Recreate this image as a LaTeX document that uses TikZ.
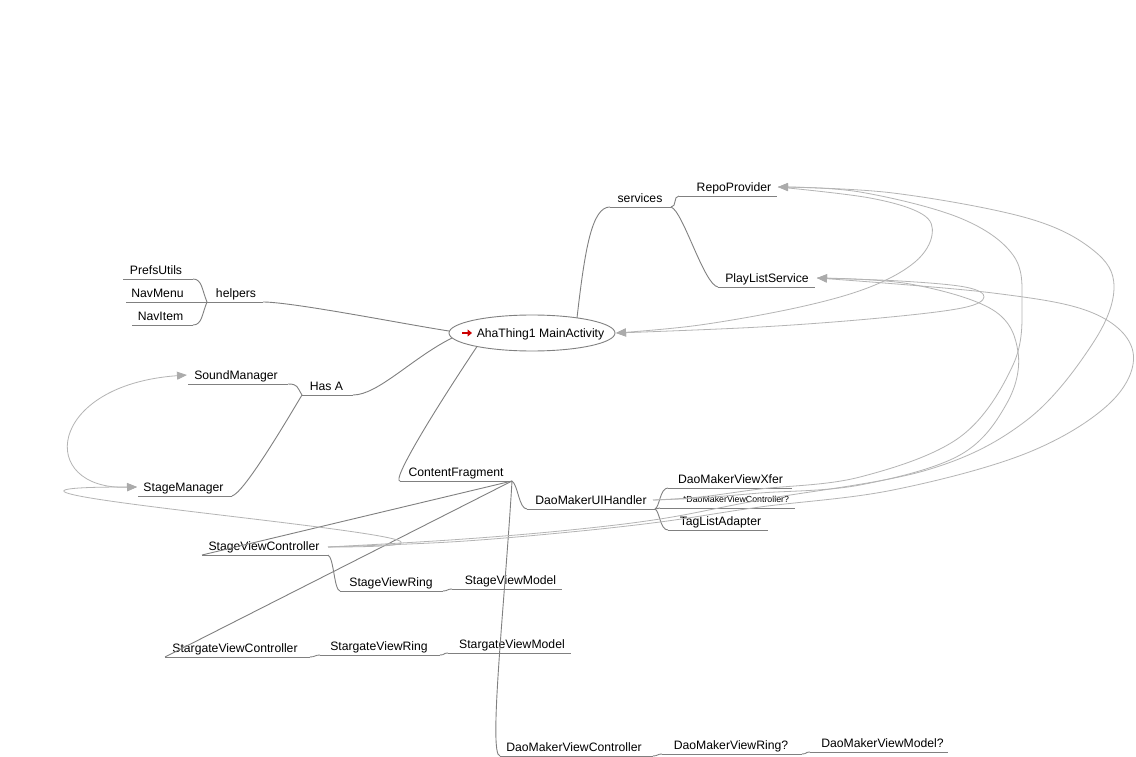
\documentclass[tikz,border=0pt]{standalone}
\usepackage{fontspec}
\setmainfont{Liberation Sans}
\usetikzlibrary{arrows.meta,shapes.geometric}
\definecolor{edgec}{HTML}{808080}
\definecolor{linkc}{HTML}{B4B4B4}
\definecolor{headc}{HTML}{ABABAB}
\begin{document}
\begin{tikzpicture}[x=1pt,y=-1pt,
  lbl/.style={font=\fontsize{12.2}{14}\selectfont, inner sep=0pt, anchor=base},
  smalllbl/.style={font=\fontsize{8.8}{10}\selectfont, inner sep=0pt, anchor=base},
  uline/.style={draw=edgec, line width=0.9pt},
  conn/.style={draw=edgec, line width=0.9pt},
  alink/.style={draw=linkc, line width=0.8pt},
  lhead/.style={-{Triangle[length=10pt,width=8pt,fill=headc,color=headc]}},
  bhead/.style={{Triangle[length=10pt,width=8pt,fill=headc,color=headc]}-{Triangle[length=10pt,width=8pt,fill=headc,color=headc]}},
]
\fill[white] (0,0) rectangle (1136,757);
\useasboundingbox (0,0) rectangle (1136,757);

% ---------- root ----------
\node[draw=edgec, line width=0.9pt, ellipse, minimum width=166pt, minimum height=36pt, inner sep=0pt] (root) at (532,333) {};
\node[lbl] (rootlbl) at (540.5,337.5) {AhaThing1 MainActivity};
\draw[red!80!black, line width=1.5pt, -{Triangle[length=4.5pt,width=7pt]}] (462,333) -- (472,333);
\coordinate (rootN) at (577,318);
\coordinate (rootW) at (449,331);
\coordinate (rootSW1) at (452,338);
\coordinate (rootSW2) at (477,346.5);
\coordinate (rootE) at (616,333);

% ---------- labels ----------
\node[lbl] (services) at (640,202.5) {services};
\node[lbl] (repo) at (734,191.5) {RepoProvider};
\node[lbl] (pls) at (767,282.5) {PlayListService};
\node[lbl] (helpers) at (236,297.5) {helpers};
\node[lbl] (prefs) at (156,274.5) {PrefsUtils};
\node[lbl] (navmenu) at (157.5,297.5) {NavMenu};
\node[lbl] (navitem) at (160.5,320.5) {NavItem};
\node[lbl] (hasa) at (326.5,390.5) {Has A};
\node[lbl] (sound) at (236,379.5) {SoundManager};
\node[lbl] (stagemgr) at (183.5,491.5) {StageManager};
\node[lbl] (content) at (456,476.5) {ContentFragment};
\node[lbl] (uih) at (591,504.5) {DaoMakerUIHandler};
\node[lbl] (xfer) at (730.5,483.5) {DaoMakerViewXfer};
\node[smalllbl] (dvc) at (736,502.5) {*DaoMakerViewController?};
\node[lbl] (tla) at (720.5,525.5) {TagListAdapter};
\node[lbl] (svco) at (264,550.5) {StageViewController};
\node[lbl] (svr) at (391,586.5) {StageViewRing};
\node[lbl] (svm) at (510.5,584.5) {StageViewModel};
\node[lbl] (sgc) at (235,652.5) {StargateViewController};
\node[lbl] (sgr) at (379,650.5) {StargateViewRing};
\node[lbl] (sgm) at (512,648.5) {StargateViewModel};
\node[lbl] (dmc) at (574,751.5) {DaoMakerViewController};
\node[lbl] (dmr) at (731,749.5) {DaoMakerViewRing?};
\node[lbl] (dmm) at (882.5,747.5) {DaoMakerViewModel?};

% ---------- underline end points ----------
\coordinate (svcL) at (610,207);  \coordinate (svcR) at (671,207);
\coordinate (repL) at (679,196);  \coordinate (repR) at (777,196);
\coordinate (plsL) at (718,287);  \coordinate (plsR) at (815,287);
\coordinate (hlpL) at (207,302);  \coordinate (hlpR) at (263,302);
\coordinate (prfL) at (123,279);  \coordinate (prfR) at (193,279);
\coordinate (nvmL) at (126,302);
\coordinate (nviL) at (132,325);  \coordinate (nviR) at (193,325);
\coordinate (hasL) at (302,395);  \coordinate (hasR) at (353,395);
\coordinate (sndL) at (188,384);  \coordinate (sndR) at (288,384);
\coordinate (stmL) at (138,496);  \coordinate (stmR) at (232,496);
\coordinate (cfL) at (400,481);   \coordinate (cfR) at (512,481);
\coordinate (uihL) at (527,509);  \coordinate (uihR) at (655,509);
\coordinate (xfL) at (668,488);   \coordinate (xfR) at (792,488);
\coordinate (dvcL) at (660,508);  \coordinate (dvcR) at (795,508);
\coordinate (tlaL) at (668,530);  \coordinate (tlaR) at (768,530);
\coordinate (svcoL) at (202,555); \coordinate (svcoR) at (328,555);
\coordinate (svrL) at (340,591);  \coordinate (svrR) at (443,591);
\coordinate (svmL) at (452,589);  \coordinate (svmR) at (562,589);
\coordinate (sgcL) at (165,657);  \coordinate (sgcR) at (310,657);
\coordinate (sgrL) at (320,655);  \coordinate (sgrR) at (440,655);
\coordinate (sgmL) at (448,653);  \coordinate (sgmR) at (571,653);
\coordinate (dmcL) at (500,756);  \coordinate (dmcR) at (653,756);
\coordinate (dmrL) at (662,754);  \coordinate (dmrR) at (802,754);
\coordinate (dmmL) at (810,752);  \coordinate (dmmR) at (948,752);

% link attach points
\coordinate (repA) at (778,187);
\coordinate (plsA) at (817,278);
\coordinate (sndA) at (187,375);
\coordinate (stmA) at (137,487);
\coordinate (svcoA) at (328,547);
\coordinate (dvcA) at (653,500);

% ---------- underlines ----------
\foreach \a/\b in {svcL/svcR, repL/repR, plsL/plsR, hlpL/hlpR, prfL/prfR, nvmL/hlpL,
  nviL/nviR, hasL/hasR, sndL/sndR, stmL/stmR, cfL/cfR, uihL/uihR, xfL/xfR, dvcL/dvcR,
  tlaL/tlaR, svcoL/svcoR, svrL/svrR, svmL/svmR, sgcL/sgcR, sgrL/sgrR, sgmL/sgmR,
  dmcL/dmcR, dmrL/dmrR, dmmL/dmmR}
  \draw[uline] (\a) -- (\b);

% ---------- tree connectors ----------
\draw[conn] (rootN) .. controls +(8,-70) and +(-18,0) .. (svcL);
\draw[conn] (svcR) .. controls +(6,0) and +(-6,0) .. (repL);
\draw[conn] (svcR) .. controls +(12,4) and +(-14,-2) .. (plsL);
\draw[conn] (hlpR) .. controls +(30,0) and +(-40,-6) .. (rootW);
\draw[conn] (prfR) .. controls +(9,0) and +(-5,-12) .. (hlpL);
\draw[conn] (nviR) .. controls +(9,0) and +(-5,12) .. (hlpL);
\draw[conn] (hasR) .. controls +(25,0) and +(-40,20) .. (rootSW1);
\draw[conn] (sndR) .. controls +(10,0) and +(-5,-8) .. (hasL);
\draw[conn] (stmR) .. controls +(12,-3) and +(-15,25) .. (hasL);
\draw[conn] (rootSW2) .. controls +(-50,75) and +(-8,0) .. (cfL);
\draw[conn] (cfR) .. controls +(6,4) and +(-8,0) .. (uihL);
\draw[conn] (uihR) .. controls +(5,-3) and +(-8,0) .. (xfL);
\draw[conn] (uihR) -- (dvcL);
\draw[conn] (uihR) .. controls +(5,3) and +(-8,0) .. (tlaL);
\draw[conn] (cfR) -- (svcoL);
\draw[conn] (svcoR) .. controls +(6,3) and +(-6,-1) .. (svrL);
\draw[conn] (svrR) .. controls +(5,0) and +(-5,0) .. (svmL);
\draw[conn] (cfR) -- (sgcL);
\draw[conn] (sgcR) .. controls +(5,0) and +(-5,0) .. (sgrL);
\draw[conn] (sgrR) .. controls +(5,0) and +(-5,0) .. (sgmL);
\draw[conn] (cfR) .. controls (505,600) and (488,756) .. (dmcL);
\draw[conn] (dmcR) .. controls +(5,0) and +(-5,0) .. (dmrL);
\draw[conn] (dmrR) .. controls +(5,0) and +(-5,0) .. (dmmL);

% ---------- arrow links ----------
\draw[alink, lhead] plot[smooth, tension=0.6] coordinates {(repA) (870,198) (922,214) (932,235) (915,262) (870,287) (800,307) (700,325) (rootE)};
\draw[alink, lhead] plot[smooth, tension=0.6] coordinates {(plsA) (900,281) (965,287) (984,297) (962,308) (880,318) (760,327) (rootE)};
\draw[alink, lhead] plot[smooth, tension=0.6] coordinates {(dvcA) (700,497) (760,489) (860,477) (960,437) (1013,365) (1022,303) (1013,255) (960,218) (860,192) (repA)};
\draw[alink, lhead] plot[smooth, tension=0.6] coordinates {(svcoA) (450,540) (560,531) (660,519) (760,500) (927,470) (1027,420) (1093,343) (1114,287) (1093,250) (1027,218) (893,193) (repA)};
\draw[alink, lhead] plot[smooth, tension=0.6] coordinates {(dvcA) (700,498) (760,493) (860,485) (960,455) (1007,403) (1018,352) (993,310) (910,284) (plsA)};
\draw[alink, lhead] plot[smooth, tension=0.6] coordinates {(svcoA) (450,542) (560,533) (660,522) (760,507) (893,490) (1027,453) (1110,403) (1133,352) (1093,313) (993,293) (plsA)};
\draw[alink, lhead] (svcoA) .. controls (640,547) and (-160,487) .. (stmA);
\draw[alink, bhead] (sndA) .. controls (46,385) and (36,490) .. (stmA);
\end{tikzpicture}
\end{document}
